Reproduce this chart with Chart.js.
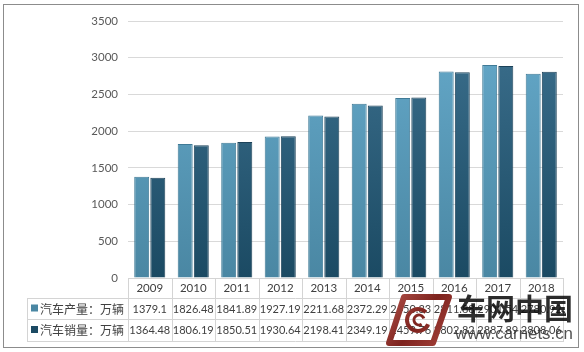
<!DOCTYPE html>
<html><head><meta charset="utf-8">
<script src="https://cdn.jsdelivr.net/npm/chart.js@4.4.1/dist/chart.umd.min.js"></script>
<style>html,body{margin:0;padding:0;background:#fff;}canvas{display:block}</style>
</head><body>
<canvas id="c" width="584" height="352"></canvas>
<script>
const years = ['2009','2010','2011','2012','2013','2014','2015','2016','2017','2018'];
const seriesNames = ['汽车产量：万辆','汽车销量：万辆'];
const production = [1379.1, 1826.48, 1841.89, 1927.19, 2211.68, 2372.29, 2450.33, 2811.88, 2901.54, 2780.92];
const sales = [1364.48, 1806.19, 1850.51, 1930.64, 2198.41, 2349.19, 2459.76, 2802.82, 2887.89, 2808.06];
const yTicks = [0, 500, 1000, 1500, 2000, 2500, 3000, 3500];

const NUM_FONT = 'Lato, "Open Sans", sans-serif';
const CJK_FONT = '"Noto Sans CJK SC", sans-serif';
const lightTop = '#66aacb', lightBot = '#4a87a3';
const darkTop = '#3d718f', darkBot = '#1b4a63';

function grad(ctx, top, bot) {
  const ch = ctx.chart, a = ch.chartArea;
  if (!a) return bot;
  const g = ch.ctx.createLinearGradient(0, a.top, 0, a.bottom);
  g.addColorStop(0, top); g.addColorStop(1, bot);
  return g;
}

function fitText(c, text, family, weight, width, x, y) {
  c.font = weight + ' 20px ' + family;
  const s = 20 * width / c.measureText(text).width;
  c.font = weight + ' ' + s.toFixed(2) + 'px ' + family;
  c.fillText(text, x, y);
}

const tablePlugin = {
  id: 'table',
  afterDraw(chart) {
    const c = chart.ctx, a = chart.chartArea, xs = chart.scales.x;
    const n = years.length, w = (a.right - a.left) / n;
    const r1 = 298, r2 = 319, r3 = 341, tl = 27;
    c.save();
    c.strokeStyle = '#d4d4d4'; c.lineWidth = 1;
    c.beginPath();
    for (let i = 0; i <= n; i++) {
      const x = Math.round(a.left + i * w) + 0.5;
      c.moveTo(x, a.bottom); c.lineTo(x, r3);
    }
    c.moveTo(tl + 0.5, r1); c.lineTo(tl + 0.5, r3);
    [r1, r2, r3].forEach(y => { c.moveTo(tl, y + 0.5); c.lineTo(Math.round(a.right) + 1, y + 0.5); });
    c.stroke();
    const rows = [production, sales];
    const cols = [lightBot, darkBot];
    const ys = [r1 + (r2 - r1) / 2, r2 + (r3 - r2) / 2];
    rows.forEach((vals, k) => {
      c.fillStyle = cols[k];
      c.fillRect(31, ys[k] - 4, 7, 7);
      c.fillStyle = '#404040';
      c.font = '12px ' + CJK_FONT;
      c.textAlign = 'left'; c.textBaseline = 'middle';
      c.fillText(seriesNames[k], 40, ys[k] + 0.5);
      c.font = '11px ' + NUM_FONT;
      c.textAlign = 'center';
      vals.forEach((v, i) => {
        c.fillText(String(v), xs.getPixelForValue(i), ys[k] + 0.5);
      });
    });
    // outer frame
    c.strokeStyle = '#8c8c8c';
    c.strokeRect(3.5, 4.5, 575, 343);
    // watermark logo
    c.lineJoin = 'round';
    const lg = c.createLinearGradient(388, 296, 450, 345);
    lg.addColorStop(0, '#b0524a'); lg.addColorStop(0.5, '#7e231e'); lg.addColorStop(1, '#a8443c');
    c.strokeStyle = lg;
    c.lineWidth = 6;
    c.beginPath();
    c.moveTo(404, 297); c.lineTo(449, 297); c.lineTo(433, 343); c.lineTo(389, 343); c.closePath();
    c.stroke();
    c.lineWidth = 4;
    c.beginPath(); c.arc(418, 320, 11, 0.4, Math.PI * 1.75); c.stroke();
    c.lineWidth = 3;
    c.beginPath(); c.arc(419, 320, 5, 1.0, Math.PI * 1.9); c.stroke();
    // watermark text
    c.textAlign = 'left'; c.textBaseline = 'middle';
    c.fillStyle = 'rgba(15,15,15,0.88)';
    fitText(c, '车网中国', CJK_FONT, 'bold', 116, 457, 309);
    c.fillStyle = 'rgba(50,50,50,0.85)';
    fitText(c, 'www.carnets.cn', '"Liberation Sans", sans-serif', 'normal', 118, 455, 334);
    c.restore();
  }
};

new Chart(document.getElementById('c'), {
  type: 'bar',
  data: {
    labels: years,
    datasets: [
      { label: seriesNames[0], data: production,
        backgroundColor: ctx => grad(ctx, lightTop, lightBot), borderColor: '#3f7a96', borderWidth: 1 },
      { label: seriesNames[1], data: sales,
        backgroundColor: ctx => grad(ctx, darkTop, darkBot), borderColor: '#1c4259', borderWidth: 1 }
    ]
  },
  options: {
    responsive: false,
    animation: false,
    devicePixelRatio: 1,
    layout: { padding: { top: 21, right: 21, left: 0, bottom: 0 } },
    datasets: { bar: { categoryPercentage: 0.74, barPercentage: 0.93 } },
    plugins: { legend: { display: false }, tooltip: { enabled: false } },
    scales: {
      x: {
        grid: { display: false, drawTicks: false },
        border: { display: true, color: '#d4d4d4' },
        ticks: { color: '#404040', padding: 3, font: { family: NUM_FONT, size: 11.5 } },
        afterFit(s) { s.height = 74; }
      },
      y: {
        min: 0, max: 3500,
        afterBuildTicks(s) { s.ticks = yTicks.map(v => ({ value: v })); },
        grid: { color: '#d9d9d9', drawTicks: false },
        border: { display: false },
        ticks: { color: '#595959', padding: 10, font: { family: NUM_FONT, size: 11.5 },
                 callback: v => String(v) },
        afterFit(s) { s.width = 128; }
      }
    }
  },
  plugins: [tablePlugin]
});
</script>
</body></html>
